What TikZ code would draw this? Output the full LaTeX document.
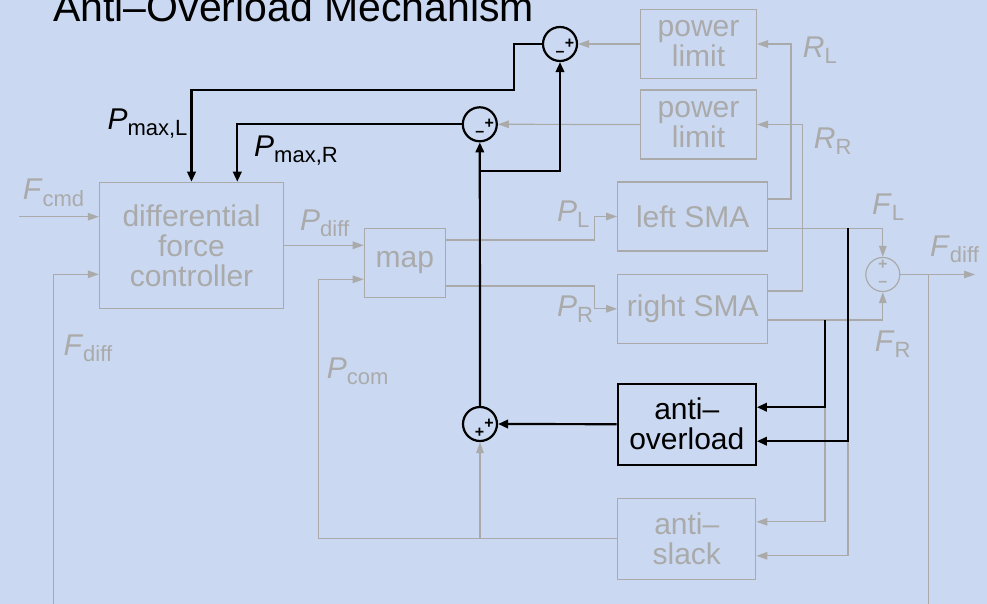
\documentclass[tikz,border=0pt]{standalone}
\usepackage{fontspec}
\setmainfont{Liberation Sans}
\usetikzlibrary{arrows.meta,calc}
\definecolor{bgblue}{RGB}{202,217,241}
\definecolor{dimgray}{RGB}{170,170,170}
\newcommand\sig[2]{\textit{#1}\raisebox{-6pt}{\fontsize{22}{22}\selectfont #2}}

\begin{document}
\begin{tikzpicture}[x=1pt,y=-1pt,
  txt/.style={font=\fontsize{30}{30}\selectfont},
  blk/.style={draw,txt,align=center,inner sep=0pt},
  gblk/.style={blk,dimgray,line width=1.2pt},
  bblk/.style={blk,black,line width=2.2pt},
  gline/.style={dimgray,line width=1.2pt,-{Triangle[length=11pt,width=7.5pt]}},
  bline/.style={black,line width=2.2pt,-{Triangle[length=10pt,width=8.5pt]}},
  sum/.style={circle,draw,minimum size=34pt,inner sep=0pt},
  sgn/.style={font=\fontsize{16}{16}\selectfont\bfseries,inner sep=0pt},
  lbl/.style={txt,anchor=base west,inner sep=0pt}]
  \useasboundingbox (0,0) rectangle (987,604);
  \fill[bgblue] (0,0) rectangle (987,604);
  \node[anchor=base west,inner sep=0pt,font=\fontsize{41}{41}\selectfont]
    (title) at (53,21.7) {Anti–Overload Mechanism};

  % blocks
  \node[gblk,minimum width=184pt,minimum height=126pt] (ctrl) at (191.5,245.3) {differential\\force\\controller};
  \node[gblk,minimum width=81pt,minimum height=69pt] (map) at (404.8,262.7) {map};
  \node[gblk,minimum width=116pt,minimum height=69pt] (plimL) at (698.5,44) {power\\limit};
  \node[gblk,minimum width=116pt,minimum height=69pt] (plimR) at (698.5,124.5) {power\\limit};
  \node[gblk,minimum width=150pt,minimum height=69pt] (smaL) at (692.7,216.5) {left SMA};
  \node[gblk,minimum width=150pt,minimum height=69pt] (smaR) at (692.7,308.8) {right SMA};
  \node[bblk,minimum width=138pt,minimum height=81pt] (antiO) at (686.8,424.2) {anti–\\overload};
  \node[gblk,minimum width=138pt,minimum height=81pt] (antiS) at (686.8,538.8) {anti–\\slack};

  % summing points
  \node[sum,black,line width=2.2pt] (s1) at (560,44) {};
  \node[sum,black,line width=2.2pt] (s2) at (479.8,124.3) {};
  \node[sum,black,line width=2.2pt] (s3) at (480,424) {};
  \node[sum,dimgray,line width=1.2pt] (s4) at (882.8,274.5) {};
  \foreach \s in {s1,s2} {
    \node[sgn] at ($(\s)+(9.5,0)$) {+};
    \node[sgn] at ($(\s)+(0,10)$) {–};
  }
  \node[sgn] at ($(s3)+(9,0)$) {+};
  \node[sgn] at ($(s3)+(-0.5,9)$) {+};
  \node[sgn,dimgray] at ($(s4)+(0,-9.5)$) {+};
  \node[sgn,dimgray] at ($(s4)+(0,9)$) {–};

  \coordinate (cmdin) at (19,216.7);
  \coordinate (fbL) at (53.3,604);
  \coordinate (fbR) at (928.8,604);
  \coordinate (fout) at (975,274.5);
  \coordinate (pcom) at (318.3,538.8);
  \coordinate (jL) at (848,228.3);
  \coordinate (jR) at (825,320);
  \coordinate (pm) at (479.8,170.7);
  \coordinate (kink) at (514,90);

  % inactive signal paths
  \draw[gline] (cmdin) -- (cmdin -| ctrl.west);
  \draw[gline] (fbL) |- ($(ctrl.west)+(0,29)$);
  \draw[gline] (ctrl.east) -- (ctrl.east -| map.west);
  \draw[gline] (antiS.west) -- (pcom) |- ($(map.west)+(0,16.6)$);
  \draw[gline] (s3 |- pcom) -- (s3.south);
  \draw[gline] ($(map.east)+(0,-22.7)$) -| ($(smaL.west)+(-23,0)$) -- (smaL.west);
  \draw[gline] ($(map.east)+(0,23.3)$) -| ($(smaR.west)+(-23,0)$) -- (smaR.west);
  \draw[gline] ($(smaL.east)+(0,-17.5)$) -- ++(22.6,0) |- (plimL.east);
  \draw[gline] ($(smaR.east)+(0,-17.8)$) -- ++(34.3,0) |- (plimR.east);
  \draw[gline] (plimL.west) -- (s1.east);
  \draw[gline] (plimR.west) -- (s2.east);
  \draw[gline] ($(smaL.east)+(0,11.8)$) -| (s4.north);
  \draw[gline] ($(smaR.east)+(0,11.2)$) -| (s4.south);
  \draw[gline] (s4.east) -- (fout);
  \draw[dimgray,line width=1.2pt] (s4.east -| fbR) -- (fbR);
  \draw[gline] (jR) |- ($(antiS.east)+(0,-17)$);
  \draw[gline] (jL) |- ($(antiS.east)+(0,17)$);

  % anti-overload loop
  \draw[bline] (jL) |- ($(antiO.east)+(0,17)$);
  \draw[bline] (jR) |- ($(antiO.east)+(0,-17)$);
  \draw[bline] (antiO.west) -- (s3.east);
  \draw[bline] (s3.north) -- (s2.south);
  \draw[bline] (pm) -| (s1.south);
  \draw[bline] (s1.west) -| (kink) -| (ctrl.north);
  \draw[bline] (s2.west) -| ($(ctrl.north)+(45.8,0)$);

  % signal names
  \node[lbl,dimgray] (lcmd) at (22.7,200) {\sig{F}{cmd}};
  \node[lbl,dimgray] (lfb) at (63.3,355) {\sig{F}{diff}};
  \node[lbl,dimgray] (lpd) at (300,230) {\sig{P}{diff}};
  \node[lbl,dimgray] (lpc) at (326.7,378.3) {\sig{P}{com}};
  \node[lbl] (lml) at (107.3,130) {\sig{P}{max,L}};
  \node[lbl] (lmr) at (254,156.7) {\sig{P}{max,R}};
  \node[lbl,dimgray] (lpl) at (557,221.7) {\sig{P}{L}};
  \node[lbl,dimgray] (lpr) at (556.8,316.7) {\sig{P}{R}};
  \node[lbl,dimgray] (lrl) at (802.7,57.3) {\sig{R}{L}};
  \node[lbl,dimgray] (lrr) at (813.7,148.3) {\sig{R}{R}};
  \node[lbl,dimgray] (lfl) at (872,214) {\sig{F}{L}};
  \node[lbl,dimgray] (lfr) at (874.7,351.7) {\sig{F}{R}};
  \node[lbl,dimgray] (lfo) at (930,256) {\sig{F}{diff}};
\end{tikzpicture}
\end{document}
